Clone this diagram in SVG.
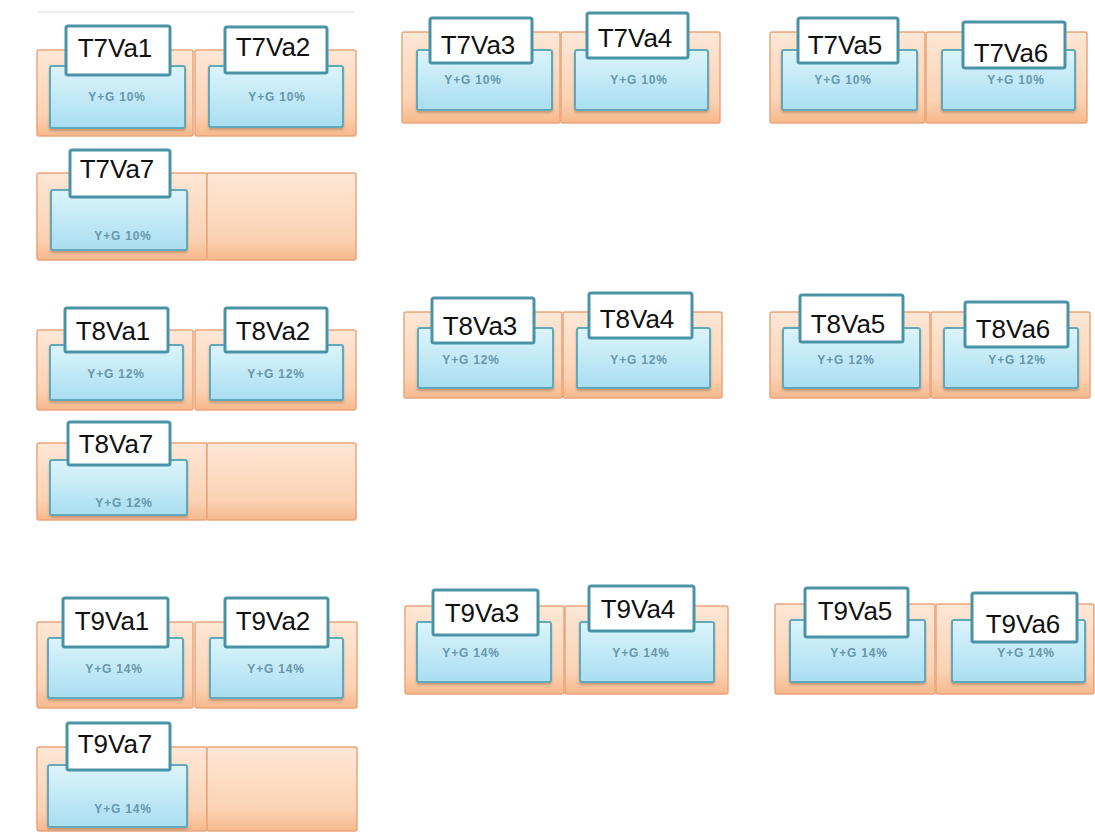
<svg xmlns="http://www.w3.org/2000/svg" width="1095" height="833" viewBox="0 0 1095 833">
<style>
.cell{fill:url(#gOr);stroke:#eaa57c;stroke-width:1.5}
.blue{fill:url(#gBl);stroke:#64a8b8;stroke-width:2;filter:url(#sh)}
.lab{fill:#fff;stroke:#4a93a6;stroke-width:3}
.t{font-family:"Liberation Sans",Arial,sans-serif;font-size:26px;fill:#111;text-anchor:middle}
.p{font-family:"Liberation Sans",Arial,sans-serif;font-size:12px;font-weight:bold;letter-spacing:0.8px;fill:#6697ab;text-anchor:middle}
</style>
<defs>
<linearGradient id="gOr" x1="0" y1="0" x2="0" y2="1">
<stop offset="0" stop-color="#fde7d6"/><stop offset="0.75" stop-color="#fbd2b3"/><stop offset="1" stop-color="#f6b88c"/>
</linearGradient>
<linearGradient id="gBl" x1="0" y1="0" x2="0" y2="1">
<stop offset="0" stop-color="#dcf4fb"/><stop offset="1" stop-color="#a9def1"/>
</linearGradient>
<filter id="sh" x="-5%" y="-5%" width="110%" height="120%">
<feDropShadow dx="0" dy="2" stdDeviation="1.2" flood-color="#8a6a50" flood-opacity="0.45"/>
</filter>
</defs>
<rect width="1095" height="833" fill="#fff"/>
<line x1="37" y1="12" x2="355" y2="12" stroke="#e9e9e9" stroke-width="1.5"/>
<g id="panels">
<rect class="cell" x="37" y="50" width="156" height="86" rx="2"/><rect class="cell" x="195" y="50" width="161" height="86" rx="2"/>
<rect class="cell" x="37" y="173" width="170" height="87" rx="2"/><rect class="cell" x="207" y="173" width="149" height="87" rx="2"/>
<rect class="cell" x="402" y="32" width="158" height="91" rx="2"/><rect class="cell" x="561" y="32" width="159" height="91" rx="2"/>
<rect class="cell" x="770" y="32" width="155" height="91" rx="2"/><rect class="cell" x="926" y="32" width="161" height="91" rx="2"/>
<rect class="cell" x="37" y="330" width="156" height="80" rx="2"/><rect class="cell" x="195" y="330" width="161" height="80" rx="2"/>
<rect class="cell" x="37" y="443" width="170" height="77" rx="2"/><rect class="cell" x="207" y="443" width="149" height="77" rx="2"/>
<rect class="cell" x="404" y="312" width="158" height="86" rx="2"/><rect class="cell" x="563" y="312" width="159" height="86" rx="2"/>
<rect class="cell" x="770" y="312" width="160" height="86" rx="2"/><rect class="cell" x="931" y="312" width="159" height="86" rx="2"/>
<rect class="cell" x="37" y="622" width="156" height="86" rx="2"/><rect class="cell" x="195" y="622" width="162" height="86" rx="2"/>
<rect class="cell" x="37" y="747" width="170" height="84" rx="2"/><rect class="cell" x="207" y="747" width="150" height="84" rx="2"/>
<rect class="cell" x="405" y="606" width="159" height="88" rx="2"/><rect class="cell" x="565" y="606" width="163" height="88" rx="2"/>
<rect class="cell" x="775" y="604" width="160" height="90" rx="2"/><rect class="cell" x="936" y="604" width="158" height="90" rx="2"/>
</g>
<g id="connectors"/>
<g id="T7Va1"><rect class="blue" x="50" y="66" width="135" height="62" rx="2"/><rect class="lab" x="66" y="26" width="104" height="49" rx="2"/><text class="t" x="115" y="57">T7Va1</text><text class="p" x="117" y="101">Y+G 10%</text></g>
<g id="T7Va2"><rect class="blue" x="209" y="66" width="134" height="61" rx="2"/><rect class="lab" x="225" y="27" width="102" height="46" rx="2"/><text class="t" x="273" y="56">T7Va2</text><text class="p" x="277" y="101">Y+G 10%</text></g>
<g id="T7Va7"><rect class="blue" x="51" y="190" width="136" height="60" rx="2"/><rect class="lab" x="70" y="150" width="100" height="47" rx="2"/><text class="t" x="117" y="178">T7Va7</text><text class="p" x="123" y="240">Y+G 10%</text></g>
<g id="T7Va3"><rect class="blue" x="417" y="50" width="135" height="60" rx="2"/><rect class="lab" x="430" y="18" width="102" height="45" rx="2"/><text class="t" x="478" y="54">T7Va3</text><text class="p" x="473" y="84">Y+G 10%</text></g>
<g id="T7Va4"><rect class="blue" x="575" y="50" width="133" height="60" rx="2"/><rect class="lab" x="587" y="13" width="101" height="45" rx="2"/><text class="t" x="635" y="47">T7Va4</text><text class="p" x="639" y="84">Y+G 10%</text></g>
<g id="T7Va5"><rect class="blue" x="782" y="50" width="135" height="60" rx="2"/><rect class="lab" x="798" y="18" width="100" height="45" rx="2"/><text class="t" x="845" y="54">T7Va5</text><text class="p" x="843" y="84">Y+G 10%</text></g>
<g id="T7Va6"><rect class="blue" x="942" y="50" width="133" height="60" rx="2"/><rect class="lab" x="963" y="22" width="102" height="46" rx="2"/><text class="t" x="1011" y="62">T7Va6</text><text class="p" x="1016" y="84">Y+G 10%</text></g>
<g id="T8Va1"><rect class="blue" x="50" y="345" width="133" height="55" rx="2"/><rect class="lab" x="65" y="308" width="103" height="44" rx="2"/><text class="t" x="113" y="340">T8Va1</text><text class="p" x="116" y="378">Y+G 12%</text></g>
<g id="T8Va2"><rect class="blue" x="210" y="345" width="133" height="55" rx="2"/><rect class="lab" x="225" y="308" width="102" height="44" rx="2"/><text class="t" x="273" y="340">T8Va2</text><text class="p" x="276" y="378">Y+G 12%</text></g>
<g id="T8Va7"><rect class="blue" x="50" y="460" width="137" height="55" rx="2"/><rect class="lab" x="68" y="422" width="102" height="43" rx="2"/><text class="t" x="116" y="453">T8Va7</text><text class="p" x="124" y="507">Y+G 12%</text></g>
<g id="T8Va3"><rect class="blue" x="418" y="328" width="135" height="60" rx="2"/><rect class="lab" x="432" y="298" width="102" height="45" rx="2"/><text class="t" x="480" y="335">T8Va3</text><text class="p" x="471" y="364">Y+G 12%</text></g>
<g id="T8Va4"><rect class="blue" x="577" y="328" width="133" height="60" rx="2"/><rect class="lab" x="589" y="293" width="103" height="45" rx="2"/><text class="t" x="637" y="328">T8Va4</text><text class="p" x="639" y="364">Y+G 12%</text></g>
<g id="T8Va5"><rect class="blue" x="783" y="328" width="137" height="60" rx="2"/><rect class="lab" x="800" y="295" width="103" height="47" rx="2"/><text class="t" x="848" y="333">T8Va5</text><text class="p" x="846" y="364">Y+G 12%</text></g>
<g id="T8Va6"><rect class="blue" x="944" y="328" width="134" height="60" rx="2"/><rect class="lab" x="965" y="302" width="103" height="45" rx="2"/><text class="t" x="1013" y="338">T8Va6</text><text class="p" x="1017" y="364">Y+G 12%</text></g>
<g id="T9Va1"><rect class="blue" x="48" y="638" width="135" height="60" rx="2"/><rect class="lab" x="63" y="598" width="105" height="49" rx="2"/><text class="t" x="112" y="630">T9Va1</text><text class="p" x="114" y="673">Y+G 14%</text></g>
<g id="T9Va2"><rect class="blue" x="210" y="638" width="133" height="60" rx="2"/><rect class="lab" x="225" y="598" width="103" height="49" rx="2"/><text class="t" x="273" y="630">T9Va2</text><text class="p" x="276" y="673">Y+G 14%</text></g>
<g id="T9Va7"><rect class="blue" x="48" y="765" width="139" height="62" rx="2"/><rect class="lab" x="67" y="723" width="103" height="47" rx="2"/><text class="t" x="115" y="753">T9Va7</text><text class="p" x="123" y="813">Y+G 14%</text></g>
<g id="T9Va3"><rect class="blue" x="417" y="622" width="134" height="60" rx="2"/><rect class="lab" x="433" y="590" width="105" height="45" rx="2"/><text class="t" x="482" y="622">T9Va3</text><text class="p" x="471" y="657">Y+G 14%</text></g>
<g id="T9Va4"><rect class="blue" x="580" y="622" width="134" height="60" rx="2"/><rect class="lab" x="589" y="586" width="105" height="45" rx="2"/><text class="t" x="638" y="618">T9Va4</text><text class="p" x="641" y="657">Y+G 14%</text></g>
<g id="T9Va5"><rect class="blue" x="790" y="620" width="135" height="62" rx="2"/><rect class="lab" x="805" y="588" width="103" height="49" rx="2"/><text class="t" x="855" y="620">T9Va5</text><text class="p" x="859" y="657">Y+G 14%</text></g>
<g id="T9Va6"><rect class="blue" x="952" y="620" width="133" height="62" rx="2"/><rect class="lab" x="972" y="593" width="105" height="49" rx="2"/><text class="t" x="1023" y="633">T9Va6</text><text class="p" x="1026" y="657">Y+G 14%</text></g>
</svg>
